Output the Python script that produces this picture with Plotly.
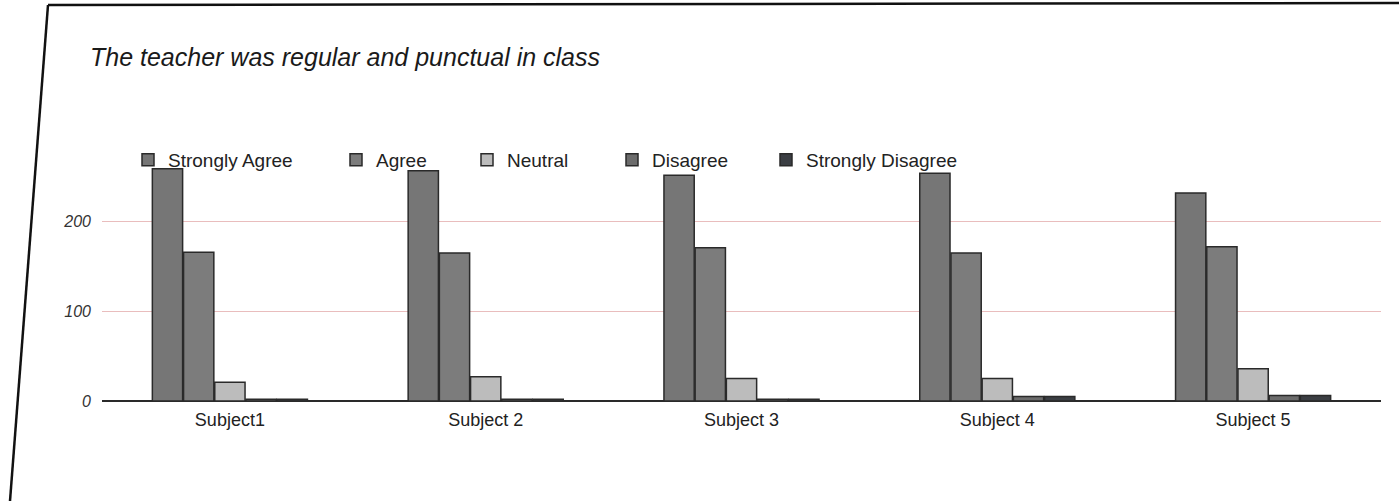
import plotly.graph_objects as go

subjects = ["Subject1", "Subject 2", "Subject 3", "Subject 4", "Subject 5"]
series_names = ["Strongly Agree", "Agree", "Neutral", "Disagree", "Strongly Disagree"]
strongly_agree = [259, 257, 252, 254, 232]
agree = [166, 165, 171, 165, 172]
neutral = [21, 27, 25, 25, 36]
disagree = [2, 2, 2, 5, 6]
strongly_disagree = [2, 2, 2, 5, 6]
y_ticks = [0, 100, 200]

values = [strongly_agree, agree, neutral, disagree, strongly_disagree]
colors = ["#767676", "#7c7c7c", "#bcbcbc", "#6c6c6c", "#3b3e43"]
legend_text_x = [168, 376, 507, 652, 806]

W, H = 1399, 501
L, R, T, B = 102, 18, 159, 100
pw = W - L - R
ph = H - T - B


def px(xp):
    return (xp - L) / pw


def py(yp):
    return (H - B - yp) / ph


FONT = "Liberation Sans, Arial, sans-serif"

fig = go.Figure()
for i, (name, vals, col) in enumerate(zip(series_names, values, colors)):
    lg = "legend" if i == 0 else f"legend{i+1}"
    fig.add_trace(go.Bar(
        x=subjects, y=vals, name=name, legend=lg, showlegend=True,
        marker=dict(color=col, line=dict(color="#2a2a2a", width=1.5)),
    ))

legends = {}
for i, tx in enumerate(legend_text_x):
    key = "legend" if i == 0 else f"legend{i+1}"
    legends[key] = dict(
        xref="paper", yref="paper", visible=True,
        x=px(tx - 40), y=py(160), xanchor="left", yanchor="middle",
        orientation="h", bgcolor="rgba(0,0,0,0)", borderwidth=0,
        font=dict(family=FONT, size=19, color="#222"),
    )

fig.update_layout(
    width=W, height=H, showlegend=True,
    margin=dict(l=L, r=R, t=T, b=B, autoexpand=False),
    paper_bgcolor="white", plot_bgcolor="white",
    barmode="group", bargap=0.39, bargroupgap=0.03,
    title=dict(
        text="The teacher was regular and punctual in class",
        xref="container", yref="container", x=90 / W, y=1 - 57 / H,
        xanchor="left", yanchor="middle",
        font=dict(family=FONT, size=25, color="#1a1a1a", style="italic"),
    ),
    xaxis=dict(
        showgrid=False, showline=False, ticks="",
        tickfont=dict(family=FONT, size=18, color="#222"),
        ticklabelstandoff=6,
    ),
    yaxis=dict(
        range=[0, 270], tickvals=y_ticks, ticks="",
        showgrid=True, gridcolor="#e9bdbd", gridwidth=1,
        zeroline=True, zerolinecolor="#2a2a2a", zerolinewidth=2,
        tickfont=dict(family=FONT, size=16, color="#333", style="italic"),
        ticklabelstandoff=10,
    ),
    shapes=[
        dict(type="line", xref="paper", yref="paper",
             x0=px(48), y0=py(5), x1=px(1399), y1=py(3),
             line=dict(color="#111", width=2.5)),
        dict(type="line", xref="paper", yref="paper",
             x0=px(48), y0=py(5), x1=px(10), y1=py(501),
             line=dict(color="#111", width=2.5)),
    ],
    **legends,
)

fig.write_html(
    "out.html",
    config={"displayModeBar": False},
    post_script="document.body.style.margin='0';document.body.style.overflow='hidden';",
)
